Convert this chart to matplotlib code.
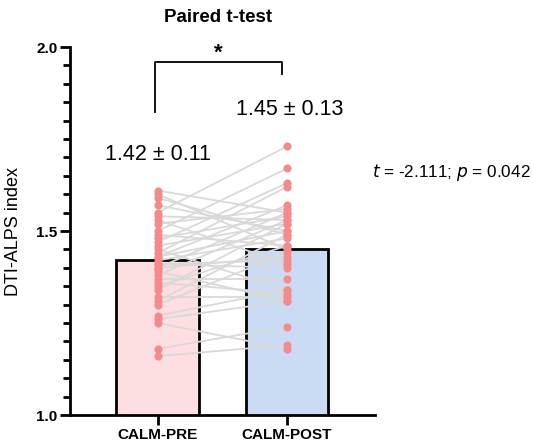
import matplotlib
matplotlib.use("Agg")
import matplotlib.pyplot as plt
from matplotlib.ticker import MultipleLocator
import numpy as np

plt.rcParams['font.family'] = ['Liberation Sans', 'DejaVu Sans']

categories = ["CALM-PRE", "CALM-POST"]
bar_means = [1.42, 1.45]
bar_labels = ["1.42 ± 0.11", "1.45 ± 0.13"]
pre = [1.61, 1.60, 1.59, 1.57, 1.55, 1.54, 1.53, 1.52, 1.50, 1.49, 1.48, 1.47,
       1.46, 1.45, 1.44, 1.43, 1.43, 1.42, 1.41, 1.40, 1.40, 1.39, 1.38, 1.37,
       1.36, 1.35, 1.34, 1.32, 1.31, 1.30, 1.27, 1.26, 1.25, 1.18, 1.16, 1.41]
post = [1.55, 1.45, 1.49, 1.50, 1.73, 1.53, 1.41, 1.56, 1.67, 1.46, 1.54, 1.63,
        1.52, 1.34, 1.62, 1.57, 1.50, 1.48, 1.40, 1.55, 1.43, 1.31, 1.53, 1.37,
        1.33, 1.46, 1.52, 1.32, 1.49, 1.44, 1.34, 1.31, 1.18, 1.24, 1.19, 1.42]
stats_text = r"$t$ = -2.111; $p$ = 0.042"

fig = plt.figure(figsize=(5.33, 4.46), dpi=100)
ax = fig.add_axes([0.131, 0.0695, 0.5725, 0.8251])

x = np.arange(len(categories))
ax.bar(x, bar_means, width=0.64, color=["#FDDEE1", "#C9DCF4"],
       edgecolor="black", linewidth=2, zorder=1)

for a, b in zip(pre, post):
    ax.plot([0, 1], [a, b], color="#D9D9D9", linewidth=1.3, zorder=2)
ax.scatter(np.zeros(len(pre)), pre, s=34, color="#F58A8C", zorder=3, linewidths=0)
ax.scatter(np.ones(len(post)), post, s=34, color="#F58A8C", zorder=3, linewidths=0)

ax.set_xlim(-0.68, 1.68)
ax.set_ylim(1.0, 2.0)
ax.yaxis.set_minor_locator(MultipleLocator(0.05))
ax.set_yticks([1.0, 1.5, 2.0])
ax.set_yticklabels([f"{v:.1f}" for v in [1.0, 1.5, 2.0]], fontweight="bold", fontsize=11)
ax.set_xticks(x)
ax.set_xticklabels(categories, fontweight="bold", fontsize=11)
ax.tick_params(axis="both", which="major", width=2, length=7, pad=2)
ax.tick_params(axis="y", which="minor", width=2, length=5)
for s in ["top", "right"]:
    ax.spines[s].set_visible(False)
for s in ["left", "bottom"]:
    ax.spines[s].set_linewidth(2)
ax.set_ylabel("DTI-ALPS index", fontsize=13, labelpad=10)

# annotations
ax.text(0.0, 1.707, bar_labels[0], ha="center", va="center", fontsize=15.5)
ax.text(1.02, 1.829, bar_labels[1], ha="center", va="center", fontsize=15.5)
ax.plot([-0.02, -0.02, 0.96, 0.96], [1.823, 1.959, 1.959, 1.927],
        color="black", linewidth=1.3, clip_on=False)
ax.text(0.47, 1.955, "*", ha="center", va="bottom", fontsize=16, fontweight="bold")
fig.text(0.41, 0.96, "Paired t-test", ha="center", va="center",
         fontsize=13.5, fontweight="bold")
fig.text(0.698, 0.614, stats_text, ha="left", va="center", fontsize=12.3)

fig.savefig("out.png", dpi=100)
